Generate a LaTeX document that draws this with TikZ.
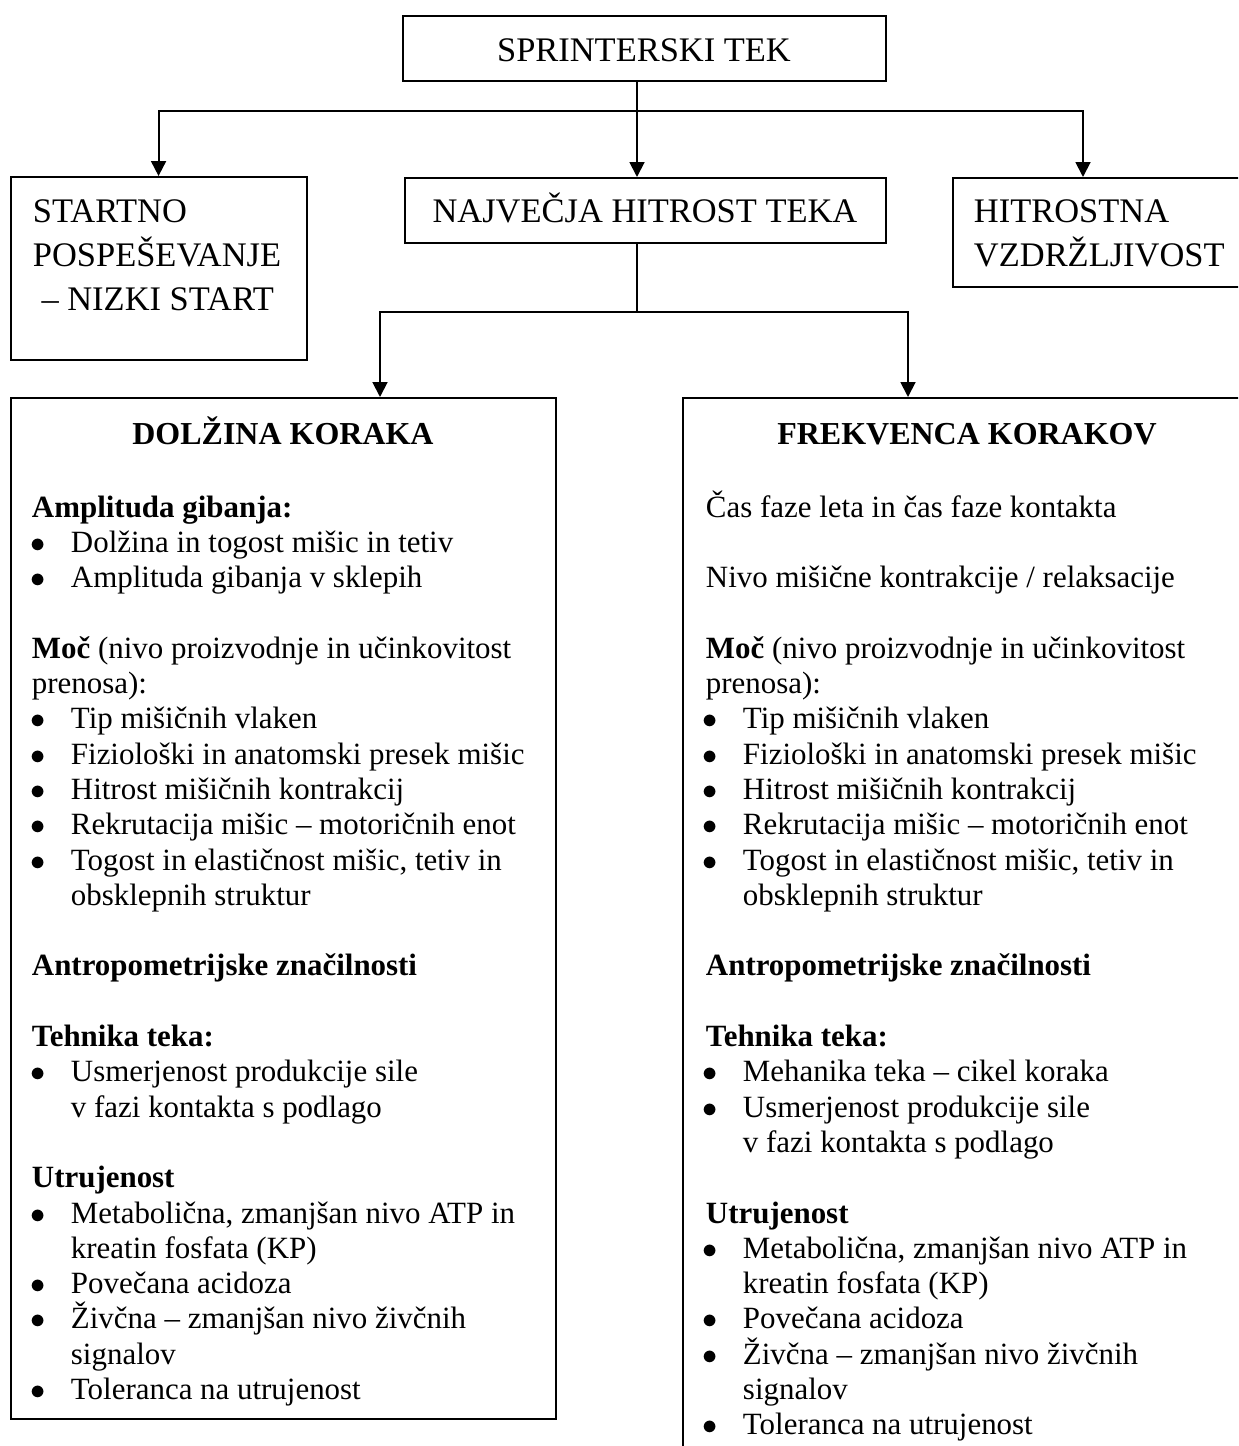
\documentclass[tikz,border=0pt]{standalone}
\usepackage{fontspec}
\setmainfont{Liberation Serif}
\usepackage{tikz}
\usetikzlibrary{arrows.meta,positioning}

\begin{document}
\begin{tikzpicture}[>={Triangle[width=8.5pt,length=8.5pt]},line width=1.1pt,
     bx/.style={draw,line width=1.2pt,inner sep=0pt,anchor=north west},
     big/.style={inner sep=0pt,font=\fontsize{19.6}{25}\selectfont},
     ttl/.style={inner sep=0pt,anchor=base,font=\fontsize{18.2}{22}\selectfont\bfseries},
     tx/.style={inner sep=0pt,anchor=base west,font=\fontsize{17.6}{20}\selectfont},
     hd/.style={tx,font=\fontsize{17.6}{20}\selectfont\bfseries}]
    \useasboundingbox (0,0) rectangle (24.76,-28.92);
    \clip (0,0) rectangle (24.76,-28.92);
    % boxes
    \node[bx,minimum width=9.66cm,minimum height=1.30cm] (sprint) at (8.04,-0.30) {};
    \node[bx,minimum width=5.92cm,minimum height=3.66cm] (startb) at (0.19,-3.52) {};
    \node[bx,minimum width=9.63cm,minimum height=1.30cm] (najb) at (8.07,-3.54) {};
    \node[bx,minimum width=6.00cm,minimum height=2.18cm] (hitb) at (19.04,-3.54) {};
    \node[bx,minimum width=10.90cm,minimum height=20.42cm] (dolb) at (0.20,-7.94) {};
    \node[bx,minimum width=12cm,minimum height=22cm] (freb) at (13.64,-7.94) {};
    % box labels
    \node[big,anchor=base] (sprinttxt) at (12.88,-1.234) {SPRINTERSKI TEK};
    \node[big,anchor=base] (najtxt) at (12.90,-4.454) {NAJVEČJA HITROST TEKA};
    \foreach \i/\t in {0/STARTNO,1/POSPEŠEVANJE,2/{\ – NIZKI START}}
      \node[big,anchor=base west] (start\i) at (0.64,{-4.44-0.88*\i}) {\t};
    \foreach \i/\t in {0/HITROSTNA,1/VZDRŽLJIVOST}
      \node[big,anchor=base west] (hit\i) at (19.46,{-4.454-0.88*\i}) {\t};
    \node[ttl] (doltxt) at (5.66,-8.88) {DOLŽINA KORAKA};
    \node[ttl] (fretxt) at (19.34,-8.88) {FREKVENCA KORAKOV};
    % connectors
    \coordinate (j1) at (12.74,-2.22);
    \coordinate (j2) at (12.74,-6.24);
    \coordinate (hitin) at ([xshift=2.62cm]hitb.north west);
    \coordinate (dolin) at ([xshift=7.40cm]dolb.north west);
    \coordinate (frein) at ([xshift=4.52cm]freb.north west);
    \draw[->] (j1 |- sprint.south) -- (j1 |- najb.north);
    \draw[->] (j1) -| (startb.north);
    \draw[->] (j1) -| (hitin);
    \draw (j2 |- najb.south) -- (j2);
    \draw[->] (j2) -| (dolin);
    \draw[->] (j2) -| (frein);
    % left column
    \foreach \k/\t in {0/{Amplituda gibanja:},13/{Antropometrijske značilnosti},15/{Tehnika teka:},19/Utrujenost}
      \node[hd] (lh\k) at (0.62,{-10.34-0.706*\k}) {\t};
    \foreach \k/\t in {4/{\textbf{Moč} (nivo proizvodnje in učinkovitost},5/{prenosa):}}
      \node[tx] (lp\k) at (0.62,{-10.34-0.706*\k}) {\t};
    \foreach \k/\t in {1/{Dolžina in togost mišic in tetiv},2/{Amplituda gibanja v sklepih},
        6/{Tip mišičnih vlaken},7/{Fiziološki in anatomski presek mišic},8/{Hitrost mišičnih kontrakcij},
        9/{Rekrutacija mišic – motoričnih enot},10/{Togost in elastičnost mišic, tetiv in},11/{obsklepnih struktur},
        16/{Usmerjenost produkcije sile},17/{v fazi kontakta s podlago},
        20/{Metabolična, zmanjšan nivo ATP in},21/{kreatin fosfata (KP)},22/{Povečana acidoza},
        23/{Živčna – zmanjšan nivo živčnih},24/{signalov},25/{Toleranca na utrujenost}}
      \node[tx] (li\k) at (1.40,{-10.34-0.706*\k}) {\t};
    \foreach \k in {1,2,6,7,8,9,10,16,20,22,23,25}
      \node[tx] (lb\k) at (0.586,{-10.34-0.706*\k}) {$\bullet$};
    % right column
    \foreach \k/\t in {13/{Antropometrijske značilnosti},15/{Tehnika teka:},20/Utrujenost}
      \node[hd] (rh\k) at (14.10,{-10.34-0.706*\k}) {\t};
    \foreach \k/\t in {0/{Čas faze leta in čas faze kontakta},2/{Nivo mišične kontrakcije / relaksacije},
        4/{\textbf{Moč} (nivo proizvodnje in učinkovitost},5/{prenosa):}}
      \node[tx] (rp\k) at (14.10,{-10.34-0.706*\k}) {\t};
    \foreach \k/\t in {6/{Tip mišičnih vlaken},7/{Fiziološki in anatomski presek mišic},8/{Hitrost mišičnih kontrakcij},
        9/{Rekrutacija mišic – motoričnih enot},10/{Togost in elastičnost mišic, tetiv in},11/{obsklepnih struktur},
        16/{Mehanika teka – cikel koraka},17/{Usmerjenost produkcije sile},18/{v fazi kontakta s podlago},
        21/{Metabolična, zmanjšan nivo ATP in},22/{kreatin fosfata (KP)},23/{Povečana acidoza},
        24/{Živčna – zmanjšan nivo živčnih},25/{signalov},26/{Toleranca na utrujenost}}
      \node[tx] (ri\k) at (14.84,{-10.34-0.706*\k}) {\t};
    \foreach \k in {6,7,8,9,10,16,17,21,23,24,26}
      \node[tx] (rb\k) at (14.04,{-10.34-0.706*\k}) {$\bullet$};
  \end{tikzpicture}
\end{document}
